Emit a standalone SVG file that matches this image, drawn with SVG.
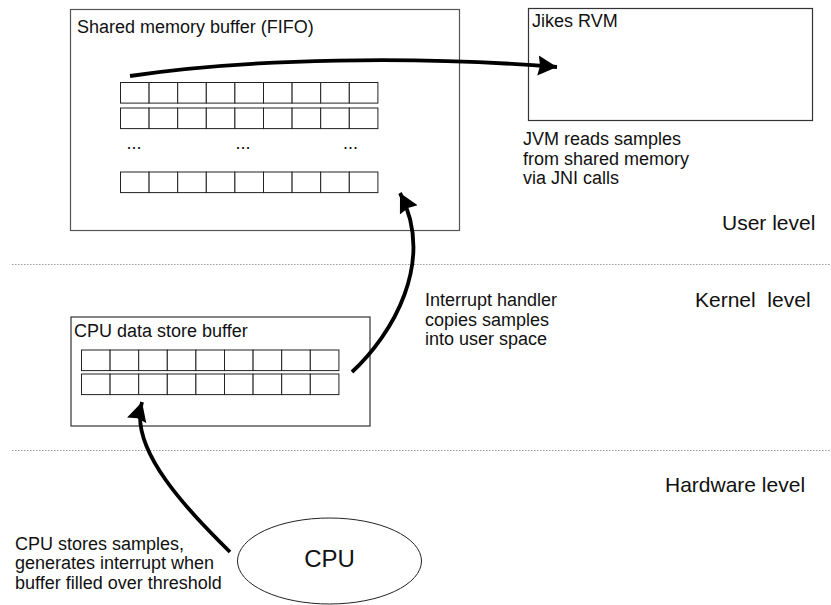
<svg xmlns="http://www.w3.org/2000/svg" width="831" height="605" viewBox="0 0 831 605">
<style>
text{font-family:"Liberation Sans",Arial,sans-serif;fill:#111;}
.t{font-size:18px;}
.lvl{font-size:21px;white-space:pre;}
.box{fill:#fff;stroke:#555;stroke-width:1.2;}
.cell{fill:#fff;stroke:#222;stroke-width:1;}
.sep{stroke:#9a9a9a;stroke-width:1;stroke-dasharray:1.5,1.5;fill:none;}
.arr{fill:none;stroke:#000;stroke-width:3.8;marker-end:url(#ah);}
</style>
<defs>
<marker id="ah" markerUnits="userSpaceOnUse" markerWidth="20" markerHeight="22" viewBox="0 0 20 22" refX="19" refY="11" orient="auto">
<path d="M0,1 L19,11 L0,21 L2,11 Z" fill="#000"/>
</marker>
<g id="row9">
<rect class="cell" x="0" y="0" width="28.6" height="20.6"/>
<rect class="cell" x="28.6" y="0" width="28.6" height="20.6"/>
<rect class="cell" x="57.2" y="0" width="28.6" height="20.6"/>
<rect class="cell" x="85.8" y="0" width="28.6" height="20.6"/>
<rect class="cell" x="114.4" y="0" width="28.6" height="20.6"/>
<rect class="cell" x="143" y="0" width="28.6" height="20.6"/>
<rect class="cell" x="171.6" y="0" width="28.6" height="20.6"/>
<rect class="cell" x="200.2" y="0" width="28.6" height="20.6"/>
<rect class="cell" x="228.8" y="0" width="28.6" height="20.6"/>
</g>
</defs>
<rect width="831" height="605" fill="#fff"/>

<g id="levels">
<line class="sep" x1="12" y1="264.5" x2="831" y2="264.5"/>
<line class="sep" x1="12" y1="450.5" x2="831" y2="450.5"/>
<text class="lvl" x="722" y="230">User level</text>
<text class="lvl" x="695" y="307">Kernel  level</text>
<text class="lvl" x="665" y="492">Hardware level</text>
</g>

<g id="shared-buffer">
<rect class="box" x="70.5" y="9.5" width="389" height="221"/>
<text class="t" x="77" y="33">Shared memory buffer (FIFO)</text>
<use href="#row9" x="120.5" y="82.5"/>
<use href="#row9" x="120.5" y="108"/>
<text class="t" x="126.5" y="149">...</text>
<text class="t" x="235.5" y="149">...</text>
<text class="t" x="343" y="149">...</text>
<use href="#row9" x="120.5" y="172"/>
</g>

<g id="jikes-rvm">
<rect class="box" x="528.5" y="8.5" width="284" height="112" style="stroke:#333"/>
<text class="t" x="532" y="27">Jikes RVM</text>
</g>

<g id="jvm-note">
<text class="t" x="523" y="145">JVM reads samples</text>
<text class="t" x="523" y="164.5">from shared memory</text>
<text class="t" x="523" y="184">via JNI calls</text>
</g>

<g id="cpu-buffer">
<rect class="box" x="71" y="317" width="299" height="109" style="stroke:#333"/>
<text class="t" x="74" y="337">CPU data store buffer</text>
<use href="#row9" x="81.5" y="350"/>
<use href="#row9" x="81.5" y="374"/>
</g>

<g id="interrupt-note">
<text class="t" x="425" y="306">Interrupt handler</text>
<text class="t" x="425" y="325.5">copies samples</text>
<text class="t" x="425" y="345">into user space</text>
</g>

<g id="cpu">
<ellipse cx="329.5" cy="561" rx="92" ry="43" fill="#fff" stroke="#222" stroke-width="1"/>
<text x="329.5" y="567" text-anchor="middle" style="font-size:24px">CPU</text>
</g>

<g id="cpu-note">
<text class="t" x="15" y="549.5">CPU stores samples,</text>
<text class="t" x="15" y="569">generates interrupt when</text>
<text class="t" x="15" y="588.5">buffer filled over threshold</text>
</g>

<g id="connectors">
<path class="arr" d="M130,76 C250,58 420,56 557,67"/>
<path class="arr" d="M352,372 C392,335 436,262 400,193"/>
<path class="arr" d="M230,552 C190,512 128,450 142,402"/>
</g>
</svg>
